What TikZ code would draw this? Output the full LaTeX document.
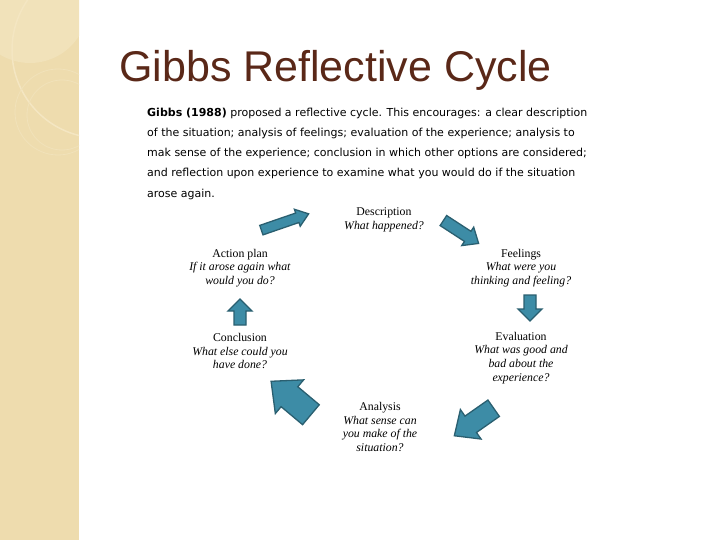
\documentclass[tikz,border=0pt]{standalone}
\usepackage{fontspec}
\setmainfont{Liberation Serif}
\newfontfamily\titlefont{Liberation Sans}
\newfontfamily\bodyfont{DejaVu Sans}
\definecolor{strip}{HTML}{EEDCAE}
\definecolor{stripl}{HTML}{F4E6C2}
\definecolor{afill}{HTML}{3D8CA6}
\definecolor{adraw}{HTML}{2A5F70}
\definecolor{titlec}{HTML}{5A2818}
\tikzset{
  cyc/.style={fill=afill, draw=adraw, line width=1.3pt, line join=miter},
  lbl/.style={font=\fontsize{11.8}{13.8}\selectfont, align=center, inner sep=0pt},
  para/.style={font=\bodyfont\fontsize{11}{12}\selectfont, anchor=base west, inner sep=0pt},
  pics/blockarrow/.style args={#1/#2/#3/#4}{code={
    \draw[cyc] (-#1/2,-#2) -- (#1/2-#4,-#2) -- (#1/2-#4,-#3) -- (#1/2,0) -- (#1/2-#4,#3) -- (#1/2-#4,#2) -- (-#1/2,#2) -- cycle;
  }}
}
\begin{document}
\begin{tikzpicture}[x=1pt,y=-1pt]
\useasboundingbox (0,0) rectangle (720,540);
\fill[white] (0,0) rectangle (720,540);
\fill[strip] (0,0) rectangle (79,540);
\begin{scope}
\clip (0,0) rectangle (79,540);
\fill[stripl!60!strip] (30,5) circle (58);
\draw[stripl, line width=1.5pt] (100,50) circle (88);
\draw[stripl!60!strip, line width=0.8pt] (58,112) circle (43);
\draw[stripl!60!strip, line width=0.8pt] (62,115) circle (35);
\end{scope}
\node[anchor=base west, inner sep=0pt, font=\titlefont\fontsize{43}{45}\selectfont, text=titlec] (title) at (119,82) {Gibbs Reflective Cycle};
\node[para] (p1) at (147,117) {\textbf{Gibbs (1988)} proposed a reflective cycle. This encourages: a clear description};
\node[para] (p2) at (147,137) {of the situation; analysis of feelings; evaluation of the experience; analysis to};
\node[para] (p3) at (147,157) {mak sense of the experience; conclusion in which other options are considered;};
\node[para] (p4) at (147,177) {and reflection upon experience to examine what you would do if the situation};
\node[para] (p5) at (147,197) {arose again.};
\node[lbl] (desc) at (384,220) {Description\\\textit{What happened?}};
\node[lbl] (act) at (240,268) {Action plan\\\textit{If it arose again what}\\\textit{would you do?}};
\node[lbl] (feel) at (521,268) {Feelings\\\textit{What were you}\\\textit{thinking and feeling?}};
\node[lbl] (conc) at (240,351) {Conclusion\\\textit{What else could you}\\\textit{have done?}};
\node[lbl] (eval) at (521,358) {Evaluation\\\textit{What was good and}\\\textit{bad about the}\\\textit{experience?}};
\node[lbl] (anal) at (380,427) {Analysis\\\textit{What sense can}\\\textit{you make of the}\\\textit{situation?}};
\pic[rotate=19] (a1) at (285,222) {blockarrow={50/5/9/12}};
\pic[rotate=-33] (a2) at (461,232) {blockarrow={42/6/11/13}};
\pic[rotate=-90] (a3) at (530,308) {blockarrow={26/6/12/12}};
\pic[rotate=-145] (a4) at (474,422) {blockarrow={48/10/18/20}};
\pic[rotate=140] (a5) at (291,398) {blockarrow={52/13/22/24}};
\pic[rotate=90] (a6) at (240,312) {blockarrow={26/6/12/12}};
\end{tikzpicture}
\end{document}
